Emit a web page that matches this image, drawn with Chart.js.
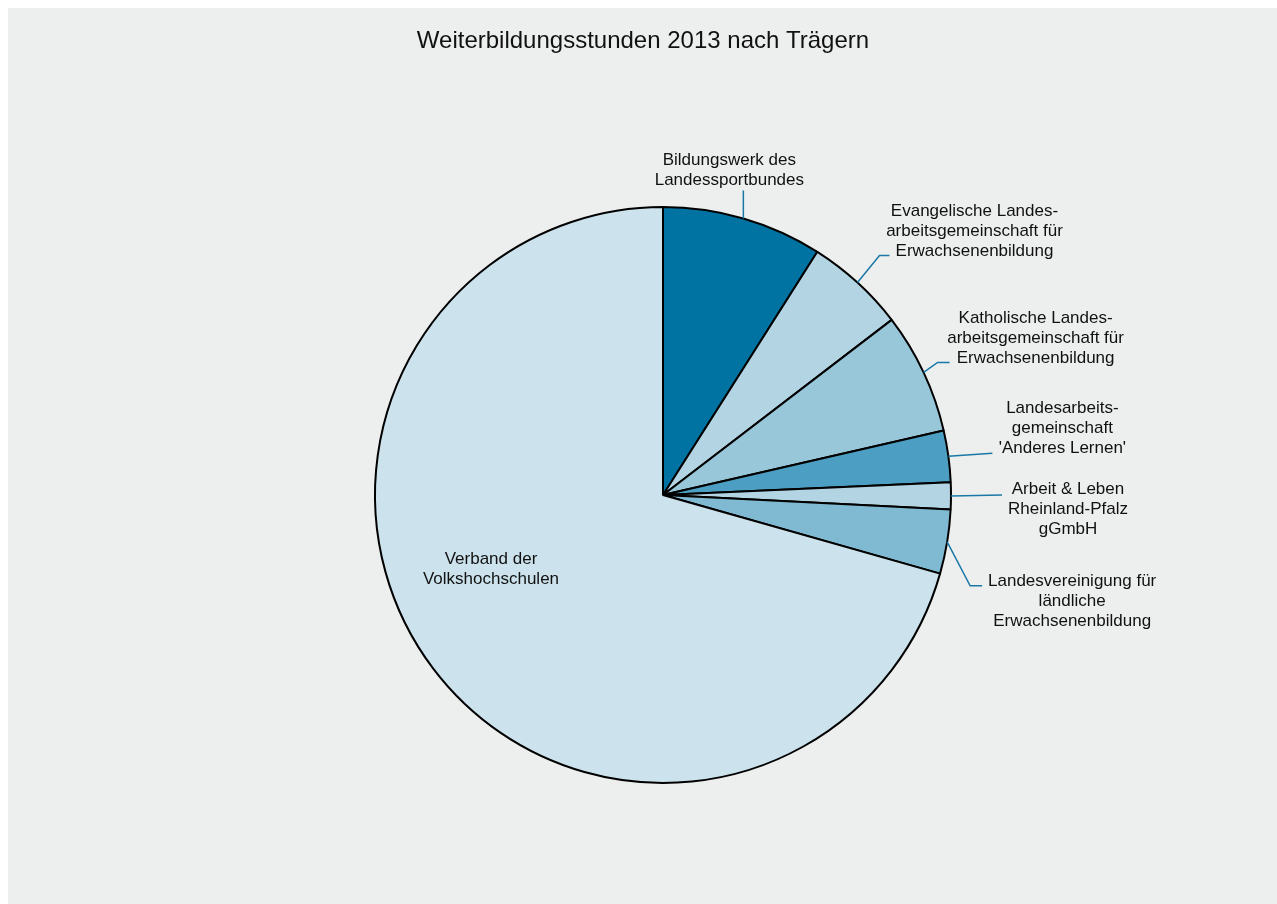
<!DOCTYPE html>
<html lang="de">
<head>
<meta charset="utf-8">
<title>Weiterbildungsstunden 2013 nach Trägern</title>
<script src="https://cdn.jsdelivr.net/npm/chart.js@4.4.1/dist/chart.umd.min.js"></script>
<style>
  html, body { margin: 0; padding: 0; background: #fff; }
  #wrap { position: absolute; left: 8px; top: 8px; width: 1269px; height: 896px; background: #edefee; }
</style>
</head>
<body>
<div id="wrap"><canvas id="pie"></canvas></div>
<script>
// data (share of hours in %)
const traeger = [
  ['Bildungswerk des', 'Landessportbundes'],
  ['Evangelische Landes-', 'arbeitsgemeinschaft für', 'Erwachsenenbildung'],
  ['Katholische Landes-', 'arbeitsgemeinschaft für', 'Erwachsenenbildung'],
  ['Landesarbeits-', 'gemeinschaft', '\'Anderes Lernen\''],
  ['Arbeit & Leben', 'Rheinland-Pfalz', 'gGmbH'],
  ['Landesvereinigung für', 'ländliche', 'Erwachsenenbildung'],
  ['Verband der', 'Volkshochschulen']
];
const anteile = [9.0, 5.6, 6.8, 2.9, 1.5, 3.6, 70.6];
const farben = ['#0073a3', '#b3d5e3', '#99c7da', '#4c9fc2', '#b3d5e3', '#80b9d2', '#cce3ed'];

// label placement relative to the slice's outer mid point: elbow, end, text centre / first line
const leaders = [
  { elbow: [0, -28],  end: [0, -28],  text: [-14, -58] },
  { elbow: [22, -27], end: [32, -27], text: [117, -71] },
  { elbow: [14, -10], end: [26, -10], text: [112, -54] },
  { elbow: [44, -3],  end: [44, -3],  text: [114, -48] },
  { elbow: [51, -1],  end: [51, -1],  text: [117, -7] },
  { elbow: [23, 44],  end: [35, 44],  text: [125, 39] },
  null // inside label
];

const FONT = '"Liberation Sans", Arial, sans-serif';

const labelPlugin = {
  id: 'labels',
  afterDraw(chart) {
    const c = chart.ctx;
    const arcs = chart.getDatasetMeta(0).data;
    c.save();
    // title
    c.fillStyle = '#111';
    c.font = '24px ' + FONT;
    c.textAlign = 'center';
    c.textBaseline = 'middle';
    c.fillText('Weiterbildungsstunden 2013 nach Trägern', 635, 33);

    c.font = '17px ' + FONT;
    arcs.forEach((a, i) => {
      const p = a.getProps(['x', 'y', 'startAngle', 'endAngle', 'outerRadius'], true);
      const mid = (p.startAngle + p.endAngle) / 2;
      const lines = chart.data.labels[i];
      const L = leaders[i];
      if (!L) {
        // label inside the big slice
        const tx = p.x - 172, ty = p.y + 64;
        c.fillStyle = '#111';
        lines.forEach((t, k) => c.fillText(t, tx, ty + k * 20));
        return;
      }
      const ax = p.x + Math.cos(mid) * p.outerRadius;
      const ay = p.y + Math.sin(mid) * p.outerRadius;
      c.strokeStyle = '#1a78a6';
      c.lineWidth = 1.5;
      c.beginPath();
      c.moveTo(ax, ay);
      c.lineTo(ax + L.elbow[0], ay + L.elbow[1]);
      c.lineTo(ax + L.end[0], ay + L.end[1]);
      c.stroke();
      c.fillStyle = '#111';
      lines.forEach((t, k) => c.fillText(t, ax + L.text[0], ay + L.text[1] + k * 20));
    });
    c.restore();
  }
};

new Chart(document.getElementById('pie'), {
  type: 'pie',
  data: {
    labels: traeger,
    datasets: [{
      data: anteile,
      backgroundColor: farben,
      borderColor: '#000',
      borderWidth: 2
    }]
  },
  options: {
    responsive: true,
    maintainAspectRatio: false,
    animation: false,
    layout: { padding: { top: 198, bottom: 120, left: 300, right: 259 } },
    plugins: {
      legend: { display: false },
      title: { display: false },
      tooltip: { enabled: false }
    }
  },
  plugins: [labelPlugin]
});
</script>
</body>
</html>
